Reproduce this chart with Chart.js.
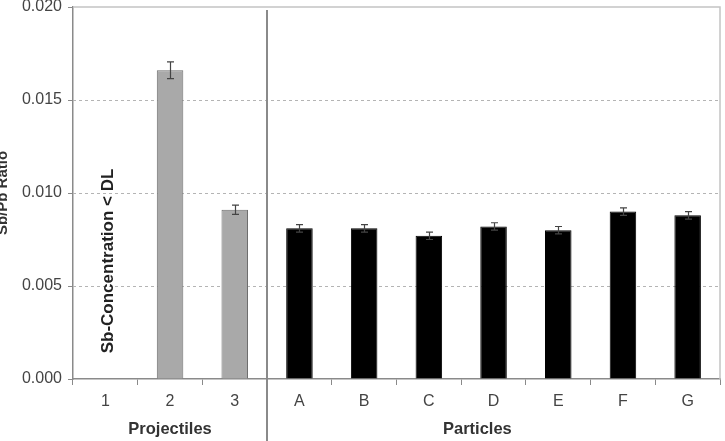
<!DOCTYPE html>
<html lang="en">
<head>
    <meta charset="UTF-8">
    <title>Sb/Pb Ratio</title>
    <script src="https://cdn.jsdelivr.net/npm/chart.js"></script>
    <style>
        html, body { margin: 0; padding: 0; background: #fff; }
        .chart-container { width: 725px; height: 441px; }
    </style>
</head>
<body>

<div class="chart-container">
    <canvas id="ratioChart"></canvas>
</div>

<script>
    // data
    const labels = ['1', '2', '3', 'A', 'B', 'C', 'D', 'E', 'F', 'G'];
    const ratios = [null, 0.0166, 0.0091, 0.0081, 0.0081, 0.0077, 0.0082, 0.0080, 0.0090, 0.0088];
    const errors = [0, 0.00045, 0.00025, 0.0002, 0.0002, 0.0002, 0.0002, 0.0002, 0.0002, 0.0002];
    const groups = ['Projectiles', 'Projectiles', 'Projectiles',
                    'Particles', 'Particles', 'Particles', 'Particles', 'Particles', 'Particles', 'Particles'];
    const yTicks = [0, 0.005, 0.010, 0.015, 0.020];

    const FONT = 'Arial, "Liberation Sans", sans-serif';

    const fills = groups.map(g => g === 'Projectiles' ? '#a9a9a9' : '#000000');
    const borders = groups.map(g => g === 'Projectiles' ? '#6e6e6e' : '#000000');

    // grid, frame, error bars, separator and the extra texts
    const decorations = {
        id: 'decorations',
        beforeDatasetsDraw(chart) {
            const { ctx, chartArea: a, scales: { x, y } } = chart;
            ctx.save();
            ctx.strokeStyle = '#b4b4b4';
            ctx.lineWidth = 1;
            ctx.setLineDash([3, 3]);
            yTicks.slice(1, -1).forEach(v => {
                const py = Math.round(y.getPixelForValue(v)) + 0.5;
                ctx.beginPath();
                ctx.moveTo(a.left, py);
                ctx.lineTo(a.right, py);
                ctx.stroke();
            });
            ctx.setLineDash([]);
            ctx.strokeStyle = '#c4c4c4';
            ctx.lineWidth = 1.5;
            ctx.beginPath();
            ctx.moveTo(a.left, a.top);
            ctx.lineTo(a.right, a.top);
            ctx.lineTo(a.right, a.bottom);
            ctx.stroke();
            ctx.restore();
        },
        afterDatasetsDraw(chart) {
            const { ctx, chartArea: a, scales: { x, y } } = chart;
            ctx.save();
            // error bars
            ctx.strokeStyle = '#444';
            ctx.lineWidth = 1.2;
            ratios.forEach((v, i) => {
                if (v === null || !errors[i]) return;
                const px = Math.round(x.getPixelForValue(i)) + 0.5;
                const hi = y.getPixelForValue(v + errors[i]);
                const lo = y.getPixelForValue(v - errors[i]);
                ctx.beginPath();
                ctx.moveTo(px, hi); ctx.lineTo(px, lo);
                ctx.moveTo(px - 3.5, hi); ctx.lineTo(px + 3.5, hi);
                ctx.moveTo(px - 3.5, lo); ctx.lineTo(px + 3.5, lo);
                ctx.stroke();
            });

            // separator between the two groups
            const first = groups.indexOf('Particles');
            const sx = Math.round((x.getPixelForValue(first - 1) + x.getPixelForValue(first)) / 2);
            ctx.strokeStyle = '#8a8a8a';
            ctx.lineWidth = 2;
            ctx.beginPath();
            ctx.moveTo(sx, a.top + 3);
            ctx.lineTo(sx, chart.height);
            ctx.stroke();

            // group titles
            ctx.fillStyle = '#333';
            ctx.font = 'bold 16.5px ' + FONT;
            ctx.textAlign = 'center';
            ctx.textBaseline = 'middle';
            ctx.fillText('Projectiles', x.getPixelForValue(1), 429);
            ctx.fillText('Particles', x.getPixelForValue(5.75), 429);

            // below detection limit note on bar 1
            ctx.save();
            ctx.translate(x.getPixelForValue(0) + 3, 261);
            ctx.rotate(-Math.PI / 2);
            ctx.font = 'bold 17px ' + FONT;
            ctx.fillStyle = '#222';
            ctx.fillText('Sb-Concentration < DL', 0, 0);
            ctx.restore();

            // y axis title (cut at the left edge as in the figure)
            ctx.save();
            ctx.translate(7, (a.top + a.bottom) / 2);
            ctx.rotate(-Math.PI / 2);
            ctx.font = 'bold 15px ' + FONT;
            ctx.textBaseline = 'alphabetic';
            ctx.fillStyle = '#333';
            ctx.fillText('Sb/Pb Ratio', 0, 0);
            ctx.restore();

            ctx.restore();
        }
    };

    new Chart(document.getElementById('ratioChart'), {
        type: 'bar',
        data: {
            labels: labels,
            datasets: [{
                label: 'Sb/Pb Ratio',
                data: ratios,
                backgroundColor: fills,
                borderColor: borders,
                borderWidth: 1,
                barPercentage: 0.41,
                categoryPercentage: 1
            }]
        },
        options: {
            responsive: true,
            maintainAspectRatio: false,
            animation: false,
            layout: { padding: { top: 7, right: 5, left: 0, bottom: 0 } },
            plugins: {
                legend: { display: false },
                tooltip: { enabled: false }
            },
            scales: {
                x: {
                    afterFit(scale) { scale.height = 62; },
                    grid: {
                        offset: true,
                        drawOnChartArea: false,
                        drawTicks: true,
                        tickLength: 6,
                        tickColor: '#8a8a8a'
                    },
                    border: { color: '#8a8a8a', width: 1.5 },
                    ticks: {
                        color: '#444',
                        font: { family: FONT, size: 16 },
                        padding: 7
                    }
                },
                y: {
                    min: 0,
                    max: 0.02,
                    afterFit(scale) {
                        scale.width = 73;
                        scale.paddingTop = 0;
                        scale.paddingBottom = 0;
                    },
                    afterBuildTicks(scale) { scale.ticks = yTicks.map(v => ({ value: v })); },
                    grid: {
                        drawOnChartArea: false,
                        drawTicks: true,
                        tickLength: 5,
                        tickColor: '#8a8a8a'
                    },
                    border: { color: '#8a8a8a', width: 1.5 },
                    ticks: {
                        color: '#444',
                        font: { family: FONT, size: 16 },
                        padding: 6,
                        callback: v => Number(v).toFixed(3)
                    }
                }
            }
        },
        plugins: [decorations]
    });
</script>

</body>
</html>
